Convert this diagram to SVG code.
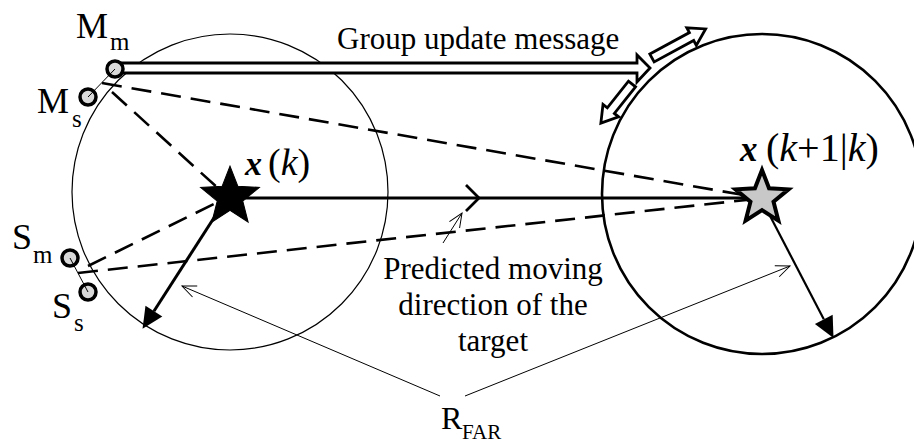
<svg xmlns="http://www.w3.org/2000/svg" xmlns:xlink="http://www.w3.org/1999/xlink" width="914" height="444" viewBox="0 0 914 444">
<defs>
<style>
.t{font-family:"Liberation Serif","Times New Roman",serif;fill:#000}
.dash{fill:none;stroke:#000;stroke-width:2.6;stroke-dasharray:20 10}
.thin{fill:none;stroke:#000;stroke-width:1}
.node{fill:#d9d9d9;stroke:#000;stroke-width:3.5}
.blk{fill:#fff;stroke:#000;stroke-width:2.8;stroke-linejoin:miter}
</style>
<path id="star" d="M0,-30 L7.6,-10.5 L28.5,-9.3 L12.4,4 L17.6,24.3 L0,13 L-17.6,24.3 L-12.4,4 L-28.5,-9.3 L-7.6,-10.5 Z"/>
<marker id="head" markerUnits="userSpaceOnUse" markerWidth="22" markerHeight="22" refX="0" refY="10" orient="auto" overflow="visible">
<path d="M0,0 L21,10 L0,20 Z" fill="#000"/>
</marker>
<marker id="open" markerUnits="userSpaceOnUse" markerWidth="16" markerHeight="14" refX="14" refY="6" orient="auto" overflow="visible">
<path d="M0,0 L14,6 L0,12" fill="none" stroke="#000" stroke-width="1"/>
</marker>
</defs>
<rect width="914" height="444" fill="#fff"/>

<g id="range-left">
<circle cx="230" cy="192" r="158" fill="none" stroke="#000" stroke-width="1.2"/>
</g>
<g id="range-right">
<circle cx="762" cy="194" r="160" fill="none" stroke="#000" stroke-width="2.6"/>
</g>

<g id="connectors">
<line class="dash" x1="102" y1="83" x2="755" y2="197"/>
<line class="dash" x1="112" y1="92" x2="220" y2="190"/>
<line class="dash" x1="88" y1="266" x2="216" y2="203"/>
<line class="dash" x1="78" y1="273" x2="755" y2="199"/>
<line x1="245" y1="198" x2="745" y2="198" stroke="#000" stroke-width="2.8"/>
<polyline points="466,185 479,198 466,211" fill="none" stroke="#000" stroke-width="2.8"/>
<line x1="219" y1="210" x2="153.9" y2="311.2" stroke="#000" stroke-width="3" marker-end="url(#head)"/>
<line x1="768" y1="212" x2="823.8" y2="319.3" stroke="#000" stroke-width="2.2" marker-end="url(#head)"/>
<line class="thin" x1="440" y1="396" x2="182" y2="286" marker-end="url(#open)"/>
<line class="thin" x1="465" y1="396" x2="790" y2="266" marker-end="url(#open)"/>
<line class="thin" x1="443" y1="243" x2="462" y2="213" marker-end="url(#open)"/>
<polygon class="blk" points="118,63 637,63 637,55 650,68 637,82 637,73 118,73"/>
<path class="blk" transform="translate(652,58) rotate(-28.5)" d="M0,-4.5 L45,-4.5 L45,-10 L61,0 L45,10 L45,4.5 L0,4.5 Z"/>
<path class="blk" transform="translate(632,84) rotate(128.5)" d="M0,-4.5 L34,-4.5 L34,-10 L50,0 L34,10 L34,4.5 L0,4.5 Z"/>
</g>

<g id="node-Mm">
<circle class="node" cx="115" cy="69" r="8"/>
<text class="t" x="76" y="38" font-size="36">M</text>
<text class="t" x="110" y="50" font-size="25">m</text>
</g>
<g id="node-Ms">
<circle class="node" cx="88" cy="97" r="8"/>
<text class="t" x="37" y="113" font-size="36">M</text>
<text class="t" x="72" y="127" font-size="25">s</text>
</g>
<g id="node-Sm">
<circle class="node" cx="70" cy="258" r="8"/>
<text class="t" x="12" y="249" font-size="36">S</text>
<text class="t" x="33" y="263" font-size="25">m</text>
</g>
<g id="node-Ss">
<circle class="node" cx="88" cy="292" r="8"/>
<text class="t" x="52" y="318" font-size="36">S</text>
<text class="t" x="74" y="331" font-size="25">s</text>
</g>
<line class="thin" x1="115" y1="69" x2="88" y2="97"/>
<line class="thin" x1="70" y1="258" x2="88" y2="292"/>

<g id="node-xk">
<use xlink:href="#star" href="#star" transform="translate(230,197) scale(1.03)" fill="#000" stroke="#000" stroke-width="1"/>
<text class="t" x="245" y="175" font-size="34" font-weight="bold" font-style="italic">x</text>
<text class="t" x="268" y="175" font-size="38">(<tspan font-style="italic">k</tspan>)</text>
</g>

<g id="node-xk1">
<use xlink:href="#star" href="#star" transform="translate(762,198) scale(0.93)" fill="#c8c8c8" stroke="#000" stroke-width="4.3" stroke-linejoin="miter"/>
<text class="t" x="740" y="161" font-size="35" font-weight="bold" font-style="italic">x</text>
<text class="t" x="766" y="161" font-size="40">(<tspan font-style="italic">k</tspan>+1|<tspan font-style="italic">k</tspan>)</text>
</g>

<g id="label-group">
<text class="t" x="337" y="49" font-size="31">Group update message</text>
</g>
<g id="label-predicted">
<text class="t" x="493" y="279" font-size="31" text-anchor="middle">Predicted moving</text>
<text class="t" x="493" y="315" font-size="31" text-anchor="middle">direction of the</text>
<text class="t" x="493" y="351" font-size="31" text-anchor="middle">target</text>
</g>
<g id="label-rfar">
<text class="t" x="441" y="429" font-size="32">R</text>
<text class="t" x="462" y="439" font-size="21">FAR</text>
</g>
</svg>
